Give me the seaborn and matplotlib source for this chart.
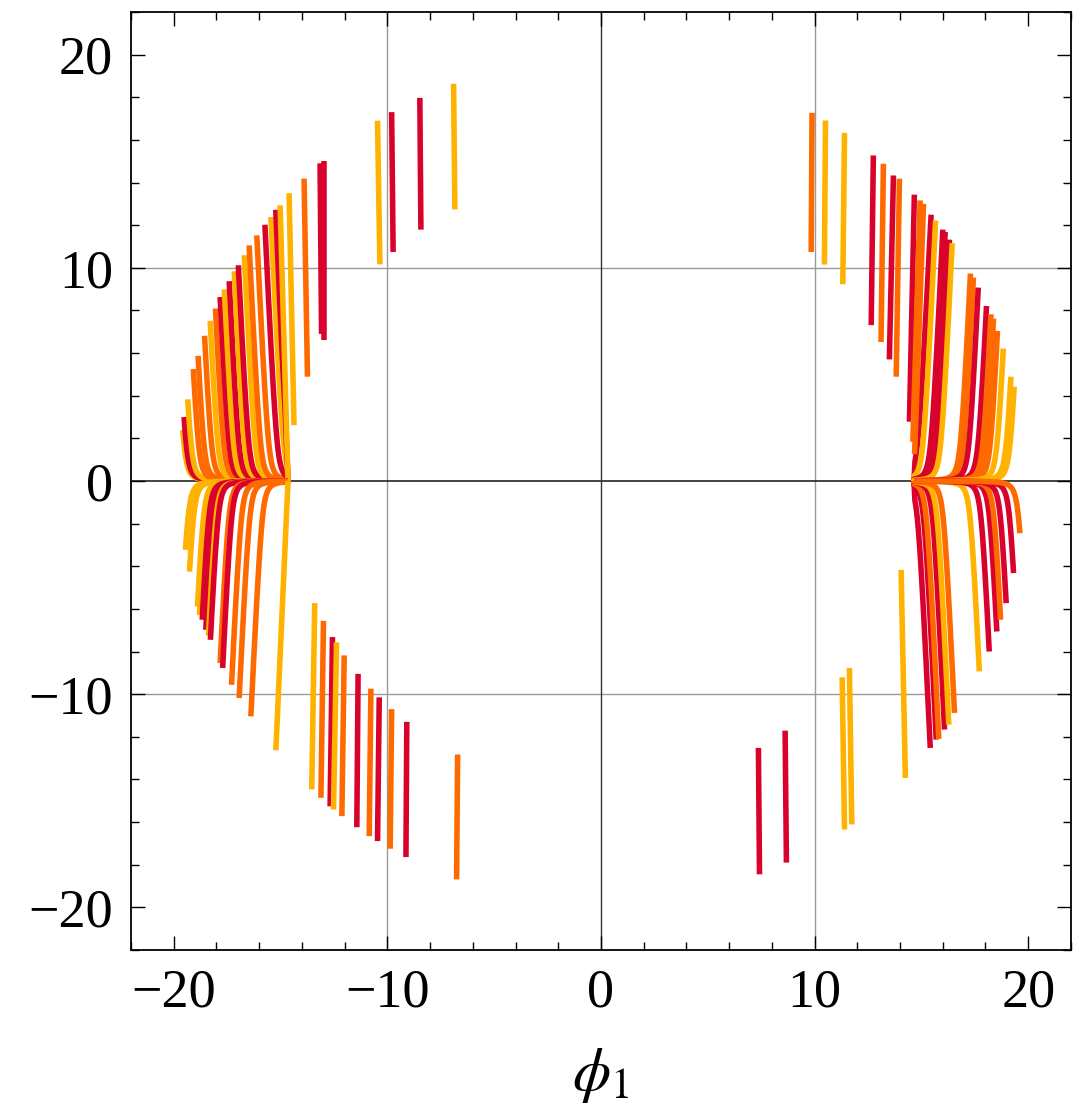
import numpy as np
import pandas as pd
import matplotlib
matplotlib.use("Agg")
import matplotlib.pyplot as plt
import seaborn as sns
from matplotlib.ticker import MultipleLocator

# ---------------- data ----------------
# Curves that run along the phi1 axis (y=0) from |x| = 14.65 and bend to a near-vertical line
bend_color = ["Y", "R", "Y", "O", "O", "O", "Y", "O", "R", "Y", "R", "Y", "R", "Y", "O", "O", "R", "Y", "R", "Y",
              "R", "Y", "R", "R", "R", "Y", "O", "O", "R", "R", "O", "O", "O", "Y", "Y", "Y",
              "Y", "Y", "Y", "Y", "R", "R", "Y", "R", "O", "R", "O", "O", "O", "Y",
              "R", "R", "O", "R", "Y", "O", "Y", "R", "R", "O", "R", "R", "O"]
bend_x_tip = [-19.75, -19.67, -19.48, -19.20, -18.97, -18.66, -18.39, -18.14, -17.92, -17.72, -17.49, -17.25, -17.06,
              -16.78, -16.55, -16.19, -15.81, -15.53, -15.30, -15.07,
              15.53, 15.74, 16.08, 16.19, 16.39, 16.52, 17.38, 17.52, 17.75, 18.14, 18.35, 18.47, 18.66, 18.94, 19.31, 19.47,
              -19.60, -19.39, -19.00, -18.90, -18.77, -18.60, -18.47, -18.38, -17.92, -17.80, -17.38, -17.02, -16.47, -15.27,
              15.49, 15.77, 15.89, 16.16, 16.36, 16.63, 17.80, 18.27, 18.63, 18.81, 19.08, 19.44, 19.78]
bend_y_tip = [2.39, 3.00, 3.83, 5.25, 5.87, 6.81, 7.51, 8.09, 8.63, 8.98, 9.37, 9.84, 10.12,
              10.59, 11.05, 11.52, 12.02, 12.38, 12.72, 12.93,
              12.49, 12.22, 11.79, 11.68, 11.32, 11.16, 9.73, 9.54, 9.07, 8.21, 7.82, 7.62, 7.04, 6.21, 4.89, 4.42,
              -3.23, -4.25, -5.89, -6.28, -6.51, -6.98, -7.26, -7.45, -8.54, -8.77, -9.56, -10.18, -11.04, -12.63,
              -12.52, -12.13, -12.10, -11.66, -11.43, -10.88, -8.93, -8.00, -7.06, -6.51, -5.73, -4.32, -2.45]
bend_x_base = [-19.64, -19.54, -19.31, -18.96, -18.71, -18.35, -18.05, -17.78, -17.53, -17.32, -17.07, -16.81, -16.60,
               -16.30, -16.05, -15.67, -15.27, -14.97, -14.80, -14.70,
               14.93, 15.19, 15.55, 15.66, 15.88, 16.02, 16.94, 17.09, 17.34, 17.77, 18.00, 18.13, 18.34, 18.66, 19.09, 19.27,
               -19.45, -19.20, -18.73, -18.62, -18.48, -18.29, -18.14, -18.04, -17.54, -17.41, -16.95, -16.56, -15.97, -14.70,
               14.93, 15.22, 15.35, 15.64, 15.85, 16.14, 17.40, 17.91, 18.31, 18.52, 18.82, 19.25, 19.67]
x_start_abs = 14.65

# Short, nearly straight segments
seg_color = ["Y", "O", "R", "R", "Y", "R", "R", "Y",
             "O", "Y", "Y", "R", "O", "R", "O", "R", "O", "O",
             "Y", "O", "R", "Y", "O", "R", "O", "R", "O", "R", "O",
             "R", "R", "Y", "Y", "Y"]
seg_x_top = [-14.60, -13.90, -13.15, -12.96, -10.46, -9.80, -8.48, -6.90,
             9.88, 10.51, 11.40, 12.75, 13.22, 13.69, 13.97, 14.67, 14.94, 15.10,
             -13.40, -12.99, -12.57, -12.38, -12.02, -11.37, -10.77, -10.38, -9.80, -9.09, -6.71,
             7.37, 8.62, 11.29, 11.63, 14.05]
seg_y_top = [13.50, 14.18, 14.90, 15.03, 16.90, 17.30, 17.97, 18.63,
             17.27, 16.91, 16.33, 15.27, 14.88, 14.33, 14.18, 13.43, 13.16, 13.00,
             -5.73, -6.56, -7.32, -7.57, -8.18, -9.05, -9.74, -10.15, -10.70, -11.30, -12.83,
             -12.52, -11.71, -9.21, -8.77, -4.17]
seg_x_bot = [-14.37, -13.74, -13.08, -12.96, -10.35, -9.73, -8.43, -6.84,
             9.84, 10.46, 11.32, 12.65, 13.11, 13.50, 13.82, 14.44, 14.60, 14.68,
             -13.54, -13.11, -12.68, -12.52, -12.13, -11.43, -10.85, -10.46, -9.87, -9.13, -6.76,
             7.42, 8.68, 11.40, 11.74, 14.25]
seg_y_bot = [2.62, 4.89, 6.90, 6.60, 10.16, 10.74, 11.79, 12.74,
             10.74, 10.15, 9.23, 7.31, 6.52, 5.70, 4.89, 2.78, 1.84, 1.26,
             -14.47, -14.86, -15.26, -15.41, -15.72, -16.24, -16.66, -16.89, -17.25, -17.64, -18.69,
             -18.45, -17.90, -16.35, -16.11, -13.93]

tick_values = [-20, -10, 0, 10, 20]
tick_labels = ["\u221220", "\u221210", "0", "10", "20"]
color_map = {"R": "#D9022C", "O": "#FF6A00", "Y": "#FFB200"}
bend_k = 0.07   # sharpness of the knee where a curve leaves the axis

# ---------------- build long table ----------------
rows = []
palette = {}
cid = 0
for c, xt, yt, xb in zip(bend_color, bend_x_tip, bend_y_tip, bend_x_base):
    s = np.sign(x_start_abs * np.sign(xt) - xb)      # direction from vertical part toward start point
    D = max(abs(np.sign(xt) * x_start_abs - xb), 0.02)
    ymin = bend_k / D ** 2
    ya = np.geomspace(min(ymin, abs(yt) * 0.5), abs(yt), 300)
    d = np.minimum(np.sqrt(bend_k / ya), D)
    frac = ya / abs(yt)
    xv = xb + (xt - xb) * frac
    x = np.concatenate([[np.sign(xt) * x_start_abs], xv + s * d])
    y = np.concatenate([[0.0], np.sign(yt) * ya])
    key = f"c{cid}"
    palette[key] = color_map[c]
    rows.append(pd.DataFrame({"x": x, "y": y, "cid": key}))
    cid += 1
for c, x1, y1, x2, y2 in zip(seg_color, seg_x_top, seg_y_top, seg_x_bot, seg_y_bot):
    key = f"c{cid}"
    palette[key] = color_map[c]
    rows.append(pd.DataFrame({"x": [x1, x2], "y": [y1, y2], "cid": key}))
    cid += 1
df = pd.concat(rows, ignore_index=True)

# ---------------- plot ----------------
sns.set_style("white")
plt.rcParams["font.family"] = ["Liberation Serif", "DejaVu Serif"]
plt.rcParams["mathtext.fontset"] = "stix"

fig = plt.figure(figsize=(10.81, 11.17), dpi=100)
ax = fig.add_axes([0.1212, 0.1495, 0.9907 - 0.1212, 0.9893 - 0.1495])

for v in (-10, 10):
    ax.axhline(v, color="#9a9a9a", lw=1.0, zorder=0)
    ax.axvline(v, color="#9a9a9a", lw=1.0, zorder=0)
ax.axhline(0, color="#111111", lw=1.1, zorder=0)
ax.axvline(0, color="#333333", lw=1.0, zorder=0)

sns.lineplot(data=df, x="x", y="y", hue="cid", palette=palette, units="cid",
             estimator=None, sort=False, legend=False, lw=4.0, ax=ax)
for ln in ax.lines:
    ln.set_solid_capstyle("butt")
    ln.set_solid_joinstyle("round")

ax.set_xlim(-22, 22)
ax.set_ylim(-22, 22)
ax.set_xticks(tick_values)
ax.set_xticklabels(tick_labels)
ax.set_yticks(tick_values)
ax.set_yticklabels(tick_labels)
ax.xaxis.set_minor_locator(MultipleLocator(2))
ax.yaxis.set_minor_locator(MultipleLocator(2))
ax.tick_params(which="both", direction="in", top=True, right=True, bottom=True, left=True,
               width=1.0, color="black", labelcolor="black")
ax.tick_params(which="major", length=10, labelsize=39, pad=13)
ax.tick_params(which="minor", length=6)
for sp in ax.spines.values():
    sp.set_color("black")
    sp.set_linewidth(1.3)

ax.set_xlabel(r"$\phi_1$", fontsize=44, labelpad=20, color="black")
ax.set_ylabel("")

fig.savefig("out.png", dpi=100)
